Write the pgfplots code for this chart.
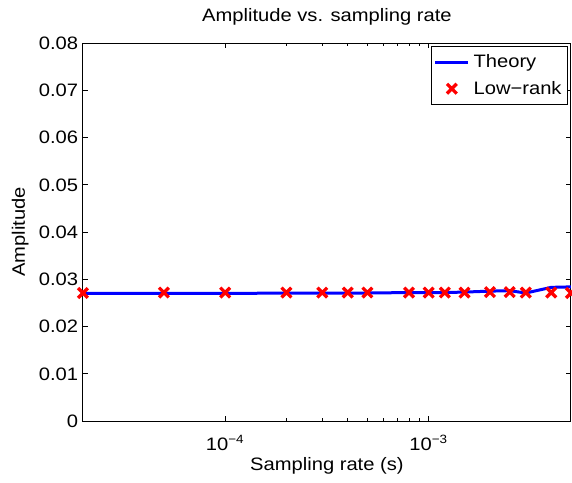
\documentclass[border=0pt]{standalone}
\usepackage{pgfplots}
\pgfplotsset{compat=1.18}
\usepackage{fontspec}
\setmainfont{Liberation Sans}[FakeStretch=1.12]
\newcommand{\tf}{\fontsize{12}{14}\selectfont}
\pgfplotsset{
  longline legend/.style={legend image code/.code={\draw[##1] (0pt,0pt) -- (22pt,0pt);}},
  centermark legend/.style={legend image code/.code={\draw[##1] plot coordinates {(11pt,0pt)};}},
}
\begin{document}
\begin{tikzpicture}
\begin{axis}[
  name=ax,
  scale only axis,
  width=325.3pt, height=252pt,
  xmode=log,
  xmin=2e-5, xmax=5e-3,
  ymin=0, ymax=0.08,
  scaled y ticks=false,
  xtick={1e-4,1e-3},
  xticklabels={10\textsuperscript{−4},10\textsuperscript{−3}},
  ytick={0,0.01,0.02,0.03,0.04,0.05,0.06,0.07,0.08},
  yticklabels={0,0.01,0.02,0.03,0.04,0.05,0.06,0.07,0.08},
  tick align=inside,
  major tick length=3.5pt,
  minor tick length=2pt,
  tick style={black, line width=0.5pt},
  axis line style={line width=0.6pt},
  /pgf/number format/assume math mode=true,
  ticklabel style={font=\tf},
  yticklabel style={inner xsep=3pt},
  xticklabel style={anchor=base, yshift=-19.3pt},
  title style={font=\fontsize{12}{14}\selectfont, at={(axis description cs:0.5,1.0345)}, anchor=base},
  title={Amplitude vs. sampling rate},
  xlabel={Sampling rate (s)},
  ylabel={Amplitude},
  xlabel style={font=\tf, at={(axis description cs:0.5,-0.1298)}, anchor=base},
  ylabel style={font=\tf, at={(axis description cs:-0.119,0.5)}, anchor=base},
  legend style={at={(rel axis cs:1,1)}, anchor=north east, xshift=-2pt, yshift=-2pt,
    font=\tf, draw=black, line width=0.5pt,
    inner xsep=1.5pt, inner ysep=1.5pt, nodes={inner xsep=2.5pt, inner ysep=3.8pt}, legend cell align=left},
]
\addplot[blue, line width=2pt, longline legend] coordinates {
 (2e-5,0.0270) (5e-5,0.0270) (1e-4,0.0270) (2e-4,0.0271) (3e-4,0.0271)
 (4e-4,0.0271) (5e-4,0.0271) (8e-4,0.0272) (1e-3,0.0272) (1.2e-3,0.0272)
 (1.5e-3,0.0273) (2e-3,0.0275) (2.5e-3,0.0276) (3e-3,0.0271)
 (4e-3,0.0283) (5e-3,0.0284)};
\addlegendentry{Theory}
\addplot[only marks, red, mark=x, mark size=4.6pt, line width=2.2pt, centermark legend] coordinates {
 (2e-5,0.0271) (5e-5,0.0272) (1e-4,0.0272) (2e-4,0.0272) (3e-4,0.0272)
 (4e-4,0.0272) (5e-4,0.0272) (8e-4,0.0272) (1e-3,0.0272) (1.2e-3,0.0272)
 (1.5e-3,0.0272) (2e-3,0.0273) (2.5e-3,0.0273) (3e-3,0.0272)
 (4e-3,0.0272) (5e-3,0.0271)};
\addlegendentry{Low−rank}
\end{axis}
\pgfresetboundingbox
\path[use as bounding box] ([xshift=-55.3pt,yshift=-40.7pt]ax.south west) rectangle ([xshift=0.7pt,yshift=28.7pt]ax.north east);
\end{tikzpicture}
\end{document}
